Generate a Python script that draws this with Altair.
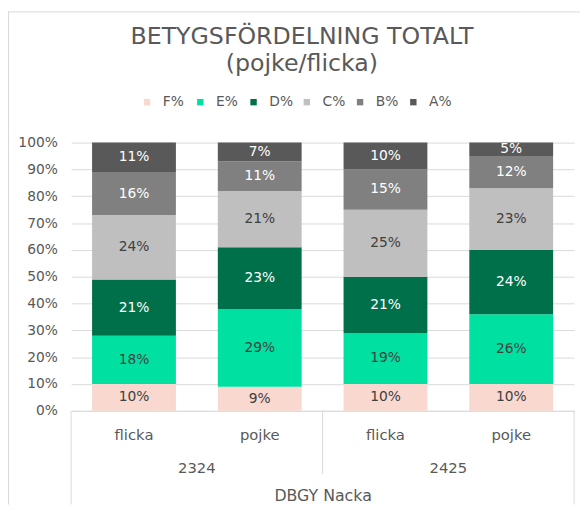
import altair as alt
import pandas as pd

# ---- data ----
years = ["2324", "2324", "2425", "2425"]
genders = ["flicka", "pojke", "flicka", "pojke"]
grades = ["F%", "E%", "D%", "C%", "B%", "A%"]
F = [10, 9, 10, 10]
E = [18, 29, 19, 26]
D = [21, 23, 21, 24]
C = [24, 21, 25, 23]
B = [16, 11, 15, 12]
A = [11, 7, 10, 5]
year_labels = ["2324", "2425"]
group_label = "DBGY Nacka"
title_lines = ["BETYGSFÖRDELNING TOTALT", "(pojke/flicka)"]

colors = ["#F8D8CF", "#00E0A0", "#00704A", "#BFBFBF", "#808080", "#595959"]
label_colors = ["#404040", "#404040", "#FFFFFF", "#404040", "#FFFFFF", "#FFFFFF"]

FONT = "DejaVu Sans"
GREY = "#595959"
LINE = "#D9D9D9"

series = [F, E, D, C, B, A]
rows = []
for gi, (g, vals) in enumerate(zip(grades, series)):
    for i in range(4):
        rows.append({
            "key": years[i] + "|" + genders[i],
            "grade": g,
            "value": vals[i],
            "ord": gi,
            "lc": label_colors[gi],
        })
df = pd.DataFrame(rows)
keys = [y + "|" + g for y, g in zip(years, genders)]

W, H = 510, 272

base = alt.Chart(df).transform_stack(
    stack="value", groupby=["key"], sort=[alt.SortField("ord", order="ascending")], as_=["y0", "y1"]
).transform_calculate(
    mid="(datum.y0 + datum.y1) / 2", lab="datum.value + '%'"
)

x_scale = alt.Scale(domain=keys, paddingInner=1 / 3, paddingOuter=1 / 6)
x_enc = alt.X(
    "key:N",
    sort=keys,
    scale=x_scale,
    axis=alt.Axis(
        labelExpr="split(datum.value, '|')[1]",
        labelAngle=0,
        labelFont=FONT,
        labelFontSize=15,
        labelColor=GREY,
        labelBaseline="alphabetic",
        labelPadding=29,
        ticks=False,
        domain=True,
        domainColor=LINE,
        grid=False,
        title=group_label,
        titleFont=FONT,
        titleFontSize=16,
        titleFontWeight="normal",
        titleColor=GREY,
        titleBaseline="alphabetic",
        titleY=91,
    ),
)

y_scale = alt.Scale(domain=[0, 100], nice=False)

bars = base.mark_bar(size=85).encode(
    x=x_enc,
    y=alt.Y(
        "y0:Q",
        scale=y_scale,
        axis=alt.Axis(
            values=list(range(0, 101, 10)),
            labelExpr="datum.value + '%'",
            labelFont=FONT,
            labelFontSize=14,
            labelColor=GREY,
            labelPadding=14,
            labelOverlap=False,
            ticks=False,
            domain=False,
            gridColor=LINE,
            gridWidth=1,
            title=None,
        ),
    ),
    y2="y1:Q",
    color=alt.Color(
        "grade:N",
        sort=grades,
        scale=alt.Scale(domain=grades, range=colors),
        legend=alt.Legend(
            orient="none",
            legendX=70,
            legendY=-48,
            direction="horizontal",
            columns=6,
            title=None,
            symbolType="square",
            symbolSize=42,
            symbolStrokeWidth=0,
            labelFont=FONT,
            labelFontSize=14,
            labelColor=GREY,
            labelOffset=9,
            columnPadding=6,
            gridAlign="all",
            padding=0,
        ),
    ),
    order=alt.Order("ord:Q"),
)

labels = base.mark_text(font=FONT, fontSize=14, baseline="middle").encode(
    x=alt.X("key:N", sort=keys, scale=x_scale, axis=None),
    y=alt.Y("mid:Q", scale=y_scale, axis=None),
    text="lab:N",
    color=alt.Color("lc:N", scale=None),
)

main = alt.layer(bars, labels).resolve_axis(x="independent", y="independent")

year_text = alt.Chart(pd.DataFrame({"year": year_labels})).mark_text(
    font=FONT, fontSize=15, color=GREY, baseline="alphabetic"
).encode(
    x=alt.X("year:N", scale=alt.Scale(paddingInner=0, paddingOuter=0), axis=None),
    y=alt.value(335),
    text="year:N",
)

# separators of the category axis (boundaries between category groups, in category units)
bounds_outer = [0, 4]
bounds_mid = [2]
sep_scale = alt.Scale(domain=[0, 4])
sep_outer = alt.Chart(pd.DataFrame({"b": bounds_outer})).mark_rule(color=LINE, strokeWidth=1).encode(
    x=alt.X("b:Q", scale=sep_scale, axis=None), y=alt.value(H), y2=alt.value(H + 95)
)
sep_mid = alt.Chart(pd.DataFrame({"b": bounds_mid})).mark_rule(color=LINE, strokeWidth=1).encode(
    x=alt.X("b:Q", scale=sep_scale, axis=None), y=alt.value(H), y2=alt.value(H + 64)
)

one = pd.DataFrame({"d": [0]})
border_top = alt.Chart(one).mark_rule(color=LINE, strokeWidth=1).encode(
    x=alt.value(-63.5), x2=alt.value(W + 6), y=alt.value(-132.5)
)
border_left = alt.Chart(one).mark_rule(color=LINE, strokeWidth=1).encode(
    x=alt.value(-63.5), y=alt.value(-133), y2=alt.value(H + 95)
)

chart = alt.layer(
    main, year_text, sep_outer, sep_mid, border_top, border_left
).resolve_scale(
    x="independent"
).properties(
    width=W,
    height=H,
    title=alt.TitleParams(
        title_lines,
        font=FONT,
        fontSize=24,
        fontWeight="normal",
        color=GREY,
        anchor="middle",
        frame="group",
        dx=-21,
        offset=-66,
        lineHeight=27,
    ),
    autosize=alt.AutoSizeParams(type="none"),
    padding={"left": 64, "top": 133, "right": 6, "bottom": 92},
).configure_view(
    stroke=None
)

chart.save("out.html", embed_options={"renderer": "svg", "actions": False})
